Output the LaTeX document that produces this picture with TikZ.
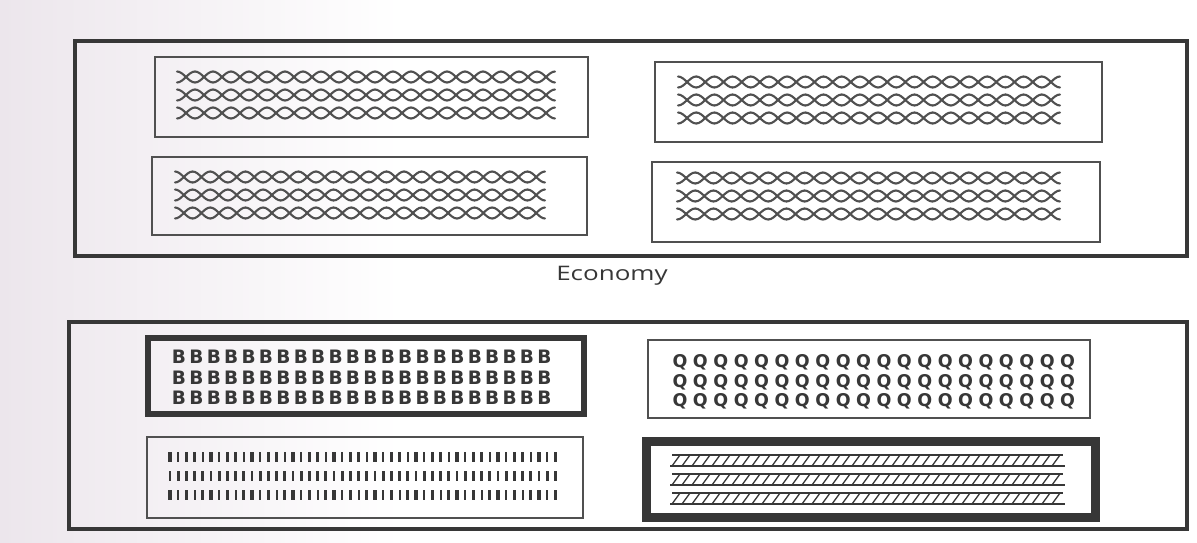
\documentclass[tikz,border=0pt]{standalone}
\usepackage{fontspec}
\setmainfont{Liberation Sans}
\newfontfamily\econfont{Open Sans}
\newfontfamily\blockfont{DejaVu Sans}
\definecolor{paper}{RGB}{236,230,236}
\definecolor{ink}{RGB}{55,55,55}
\definecolor{softink}{RGB}{80,80,80}
\newcommand\chainrow[4]{%
  \pgfmathsetmacro\chp{(#2-#1)/(#4+1)}%
  \foreach \k in {0,...,#4} {
    \pgfmathsetmacro\xa{#1+\k*\chp}%
    \pgfmathsetmacro\xb{\xa+0.5*\chp}%
    \pgfmathsetmacro\xc{\xa+\chp}%
    \draw[chainline] (\xa,#3-5.5) cos (\xb,#3) sin (\xc,#3+5.5);
    \draw[chainline] (\xa,#3+5.5) cos (\xb,#3) sin (\xc,#3-5.5);
  }%
}
\begin{document}
\begin{tikzpicture}[x=1pt,y=-1pt,
  outerbox/.style={draw=ink, line width=4pt},
  innerbox/.style={draw=softink, line width=1.4pt},
  heavybox/.style={draw=ink, line width=#1},
  chainline/.style={draw=softink, line width=2.1pt, line cap=round},
  bletter/.style={font=\blockfont\bfseries\fontsize{18.5}{18.5}\selectfont, text=ink, inner sep=0pt},
  qletter/.style={font=\blockfont\bfseries\fontsize{17.5}{17.5}\selectfont, text=ink, inner sep=0pt},
  barline/.style={draw=ink},
  hatchline/.style={draw=ink, line width=1.3pt}]
\useasboundingbox (0,0) rectangle (1197,542);
\fill[white] (0,0) rectangle (1197,542);
\shade[left color=paper, right color=white] (0,0) rectangle (400,542);

% ---------- top panel ----------
\draw[outerbox] (75,41) rectangle (1187,256);
\draw[innerbox] (155,57) rectangle (588,137);
\draw[innerbox] (655,62) rectangle (1102,142);
\draw[innerbox] (152,157) rectangle (587,235);
\draw[innerbox] (652,162) rectangle (1100,242);

\foreach \yy in {77,95,113} {\chainrow{177}{555}{\yy}{20}}
\foreach \yy in {82,100,118} {\chainrow{678}{1060}{\yy}{20}}
\foreach \yy in {177,195,213} {\chainrow{175}{545}{\yy}{20}}
\foreach \yy in {178,196,214} {\chainrow{677}{1060}{\yy}{20}}

\node[font=\econfont\fontsize{20}{22}\selectfont, text=ink] (economy) at (612,276) {\scalebox{1.3}[1]{Economy}};

% ---------- bottom panel ----------
\draw[outerbox] (69,322) rectangle (1187,529);

\draw[heavybox=6pt] (148,338) rectangle (584,414);
\foreach \yy in {357,378,398}
  \foreach \i in {0,...,21}
    \node[bletter] at (179+\i*17.4,\yy) {B};

\draw[innerbox] (648,340) rectangle (1090,418);
\foreach \yy in {362,382,401}
  \foreach \i in {0,...,19}
    \node[qletter] at (680+\i*20.4,\yy) {Q};

\draw[innerbox] (147,437) rectangle (583,518);
\foreach \yy [count=\r] in {457,476,495}
  \foreach \i in {0,...,47} {
    \pgfmathsetmacro\bw{mod(\i*7+\r*3,5)<2 ? 2.2 : 3.3}
    \draw[barline, line width=\bw pt] (170+\i*8.2,\yy-5) -- (170+\i*8.2,\yy+5);
  }

\draw[heavybox=9pt] (646.5,441.5) rectangle (1095.5,517.5);
\foreach \yt in {455,474,493} {
  \draw[hatchline] (672,\yt) -- (1063,\yt);
  \draw[hatchline] (670,\yt+11) -- (1065,\yt+11);
  \foreach \i in {0,...,38}
    \draw[hatchline] (672+\i*10,\yt+11) -- (680+\i*10,\yt);
}
\end{tikzpicture}
\end{document}
